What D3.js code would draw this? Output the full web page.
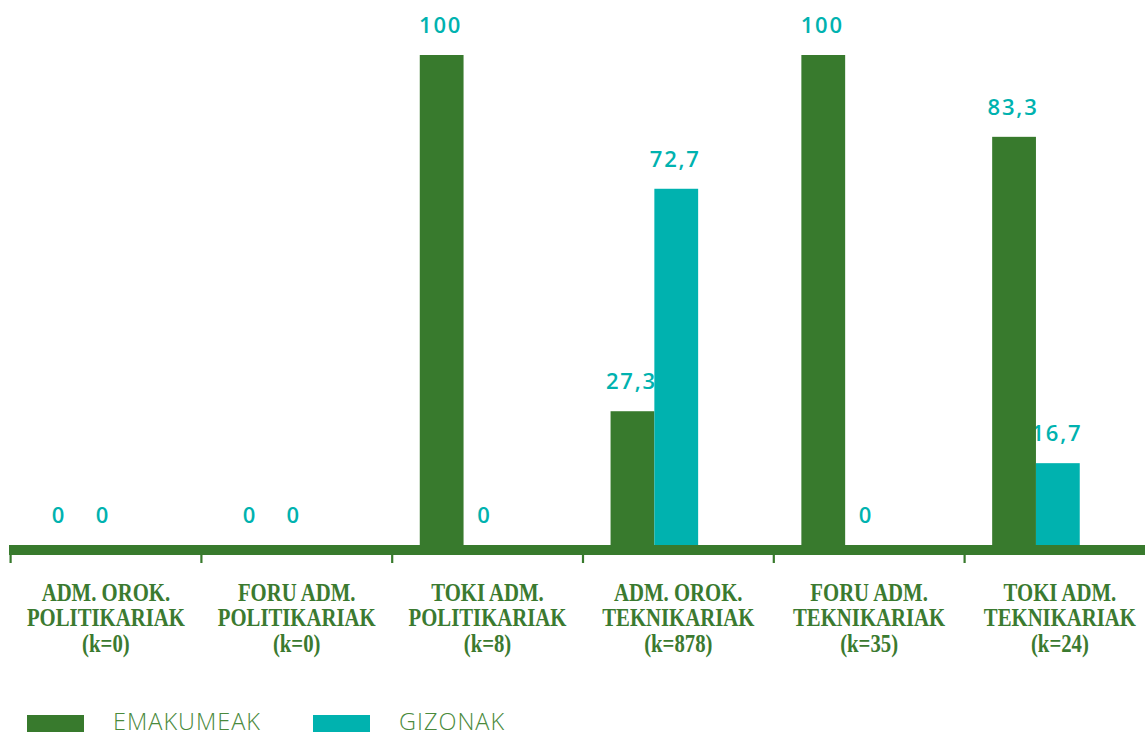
<!DOCTYPE html>
<html>
<head>
<meta charset="utf-8">
<script src="https://cdn.jsdelivr.net/npm/d3@7"></script>
<style>
html,body{margin:0;padding:0;background:#fff;}
svg{display:block;}
</style>
</head>
<body>
<svg id="chart" width="1145" height="732"></svg>
<script>
const categories = [
  ["ADM. OROK.", "POLITIKARIAK", "(k=0)"],
  ["FORU ADM.", "POLITIKARIAK", "(k=0)"],
  ["TOKI ADM.", "POLITIKARIAK", "(k=8)"],
  ["ADM. OROK.", "TEKNIKARIAK", "(k=878)"],
  ["FORU ADM.", "TEKNIKARIAK", "(k=35)"],
  ["TOKI ADM.", "TEKNIKARIAK", "(k=24)"]
];
const seriesNames = ["EMAKUMEAK", "GIZONAK"];
const emakumeak = [0, 0, 100, 27.3, 100, 83.3];
const gizonak = [0, 0, 0, 72.7, 0, 16.7];
const valueLabels = [["0","0"],["0","0"],["100","0"],["27,3","72,7"],["100","0"],["83,3","16,7"]];

const GREEN = "#387a2d", TEAL = "#00b2af", TEXTGREEN = "#3b7a30";
const svg = d3.select("#chart");
const keys = categories.map((c,i)=>"c"+i);

const x0 = d3.scaleBand().domain(keys).range([10.5, 10.5 + 6*190.8]).padding(0);
const bw = x0.bandwidth();
const x1 = d3.scaleBand().domain(seriesNames).range([bw*0.145, bw*0.604]).padding(0);
const y = d3.scaleLinear().domain([0,100]).range([545, 55]);

const data = keys.map((k,i)=>({key:k, vals:[emakumeak[i], gizonak[i]], labels:valueLabels[i]}));
const color = d3.scaleOrdinal().domain(seriesNames).range([GREEN, TEAL]);

// value labels (drawn first so bars overlay like reference)
const g = svg.append("g");
data.forEach(d=>{
  seriesNames.forEach((s,j)=>{
    g.append("text")
      .attr("x", x0(d.key) + x1(s) + x1.bandwidth()/2 - 1)
      .attr("y", y(d.vals[j]) - 22)
      .attr("text-anchor","middle")
      .attr("font-family","'Open Sans', sans-serif")
      .attr("font-weight",600)
      .attr("font-size",22)
      .attr("letter-spacing","1.8px")
      .attr("fill",TEAL)
      .text(d.labels[j]);
  });
});

// bars
data.forEach(d=>{
  seriesNames.forEach((s,j)=>{
    if (d.vals[j] <= 0) return;
    svg.append("rect")
      .attr("x", x0(d.key) + x1(s))
      .attr("y", y(d.vals[j]))
      .attr("width", x1.bandwidth())
      .attr("height", y(0) - y(d.vals[j]))
      .attr("fill", color(s));
  });
});

// axis line
svg.append("rect").attr("x", 9).attr("y", y(0)).attr("width", 1145).attr("height", 10).attr("fill", GREEN);
// ticks at band boundaries
keys.forEach(k=>{
  svg.append("rect").attr("x", x0(k)-1).attr("y", y(0)+9).attr("width", 2.2).attr("height", 9).attr("fill", GREEN);
});

// category labels
keys.forEach((k,i)=>{
  const t = svg.append("text")
    .attr("text-anchor","middle")
    .attr("font-family","'Liberation Serif', 'Times New Roman', serif")
    .attr("font-weight","bold")
    .attr("font-size",25)
    .attr("fill",TEXTGREEN)
    .attr("transform",`translate(${x0(k)+bw/2},0) scale(0.83,1)`);
  categories[i].forEach((line,li)=>{
    t.append("tspan").attr("x",0).attr("y",601 + li*25.5).text(line);
  });
});

// legend
const legX = [27, 313];
seriesNames.forEach((s,j)=>{
  svg.append("rect").attr("x", legX[j]).attr("y", 715).attr("width", 57).attr("height", 18).attr("fill", color(s));
  svg.append("text").attr("x", legX[j]+86).attr("y", 730)
    .attr("font-family","'Open Sans', sans-serif")
    .attr("font-weight",300)
    .attr("font-size",23.5)
    .attr("letter-spacing","1px")
    .attr("fill","#4a8a3c")
    .text(s);
});
</script>
</body>
</html>
